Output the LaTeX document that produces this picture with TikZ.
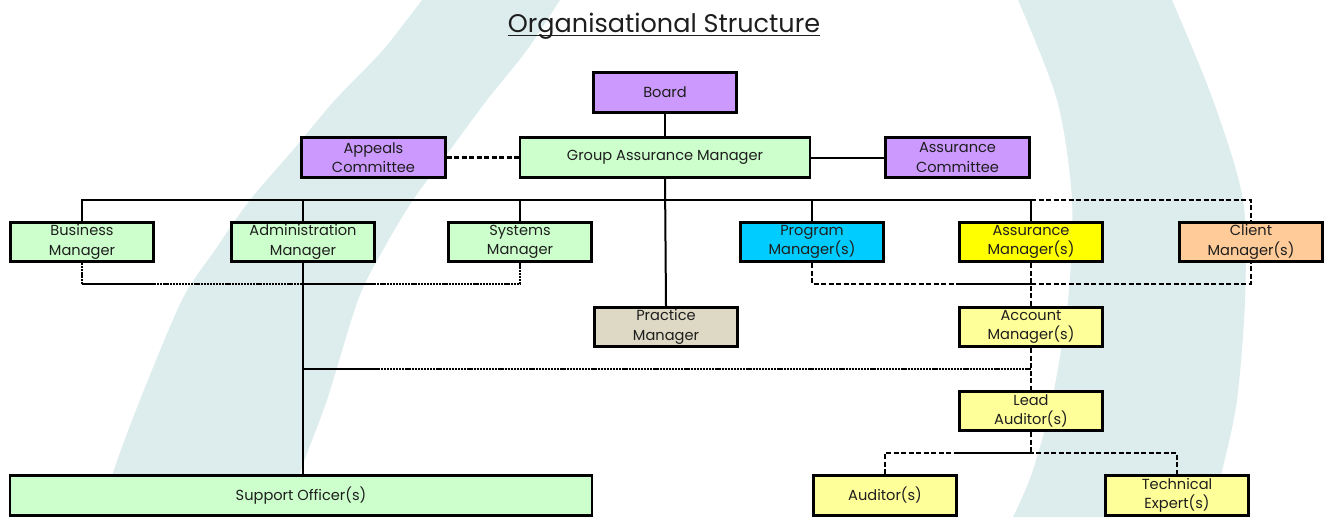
\documentclass[tikz,border=0pt]{standalone}
\usepackage{fontspec}
\setmainfont{Poppins}
\definecolor{band}{RGB}{221,236,237}
\definecolor{purp}{RGB}{204,153,255}
\definecolor{lgreen}{RGB}{204,255,204}
\definecolor{cyanbox}{RGB}{0,204,255}
\definecolor{ylw}{RGB}{255,255,0}
\definecolor{peach}{RGB}{255,204,153}
\definecolor{lylw}{RGB}{255,255,153}
\definecolor{tan}{RGB}{221,217,196}
\definecolor{txt}{RGB}{30,30,30}
\tikzset{
  box/.style={draw=black, line width=2.6pt, minimum width=143.5pt, minimum height=39.5pt,
    inner sep=0pt, align=center, text=txt, font=\fontsize{14.6}{19.5}\selectfont},
  conn/.style={draw=black, line width=2pt},
  dconn/.style={draw=black, line width=2.2pt, dash pattern=on 5pt off 2.5pt},
  fconn/.style={draw=black, line width=2.6pt, dash pattern=on 2.2pt off 0.9pt},
}
\begin{document}
\begin{tikzpicture}[x=1pt,y=-1pt]
\useasboundingbox (0,0) rectangle (1325,517);
% background bands
\fill[band] plot[smooth] coordinates {(422,0) (383,50) (335,100) (293,150) (250,200) (215,250) (182,300) (140,400) (113,473) (103,517)}
  -- plot[smooth] coordinates {(292,517) (300,473) (327,400) (358,300) (383,250) (413,200) (450,150) (487,100) (527,50) (560,0)} -- cycle;
\fill[band] plot[smooth] coordinates {(1018,0) (1057,100) (1072,200) (1068,300) (1052,400) (1032,473) (1013,517)}
  -- plot[smooth] coordinates {(1210,517) (1223,467) (1237,400) (1245,300) (1243,200) (1213,100) (1172,0)} -- cycle;
% title
\node[font=\fontsize{25.5}{30}\selectfont, text=txt, inner sep=0pt, anchor=base] (title) at (664,32) {Organisational Structure};
\draw[line width=1.6pt, txt] ([yshift=-3.5pt]title.base west) -- ([yshift=-3.5pt]title.base east);
% boxes
\node[box, fill=purp] (board) at (665,92.5) {Board};
\node[box, fill=lgreen, minimum width=290pt] (group) at (665,157.5) {Group Assurance Manager};
\node[box, fill=purp] (appeals) at (373.5,157.5) {Appeals\\Committee};
\node[box, fill=purp] (acomm) at (957.5,157.5) {Assurance\\Committee};
\node[box, fill=lgreen] (business) at (82,242) {Business\\Manager};
\node[box, fill=lgreen] (admin) at (303,242) {Administration\\Manager};
\node[box, fill=lgreen] (systems) at (520,242) {Systems\\Manager};
\node[box, fill=cyanbox] (program) at (812,242) {Program\\Manager(s)};
\node[box, fill=ylw] (assmgr) at (1031,242) {Assurance\\Manager(s)};
\node[box, fill=peach] (client) at (1251,242) {Client\\Manager(s)};
\node[box, fill=tan] (practice) at (666,327) {Practice\\Manager};
\node[box, fill=lylw] (account) at (1031,327) {Account\\Manager(s)};
\node[box, fill=lylw] (lead) at (1031,411) {Lead\\Auditor(s)};
\node[box, fill=lgreen, minimum width=582pt] (support) at (301,495.5) {Support Officer(s)};
\node[box, fill=lylw] (auditor) at (885,495.5) {Auditor(s)};
\node[box, fill=lylw] (technical) at (1177,495.5) {Technical\\Expert(s)};
% helper levels
\coordinate (bus) at (0,200);
\coordinate (low) at (0,284);
\coordinate (mid) at (0,369);
\coordinate (base) at (0,453);
% connectors
\draw[conn] (board) -- (group);
\draw[dconn] (appeals) -- (group);
\draw[conn] (group) -- (acomm);
\draw[conn] (group.south) -- (practice.north);
\draw[conn] (business.north) -- (business.north |- bus) -- (assmgr.north |- bus) -- (assmgr.north);
\draw[conn] (admin.north) -- (admin.north |- bus);
\draw[conn] (systems.north) -- (systems.north |- bus);
\draw[conn] (program.north) -- (program.north |- bus);
\draw[dconn] (assmgr.north |- bus) -| (client.north);
\draw[fconn] (business.south) -- (business.south |- low) -- (systems.south |- low) -- (systems.south);
\draw[conn, line width=2.8pt] (business.south |- low) -- (business.east |- low);
\draw[conn, line width=2.8pt] (admin.south |- low) -- (admin.east |- low);
\draw[conn] (admin.south) -- (admin.south |- support.north);
\draw[dconn] (program.south) -- (program.south |- low) -- (client.south |- low) -- (client.south);
\draw[conn, line width=2.6pt] (assmgr.west |- low) -- (assmgr.south |- low);
\draw[dconn] (assmgr.south) -- (account.north);
\draw[dconn] (account.south) -- (lead.north);
\draw[fconn] (admin.south |- mid) -- (account.south |- mid);
\draw[conn] (admin.south |- mid) -- (admin.east |- mid);
\draw[dconn] (lead.south) -- (lead.south |- base);
\draw[dconn] (auditor.north) -- (auditor.north |- base) -- (technical.north |- base) -- (technical.north);
\draw[conn, line width=2.6pt] (lead.west |- base) -- (lead.south |- base);
\end{tikzpicture}
\end{document}
